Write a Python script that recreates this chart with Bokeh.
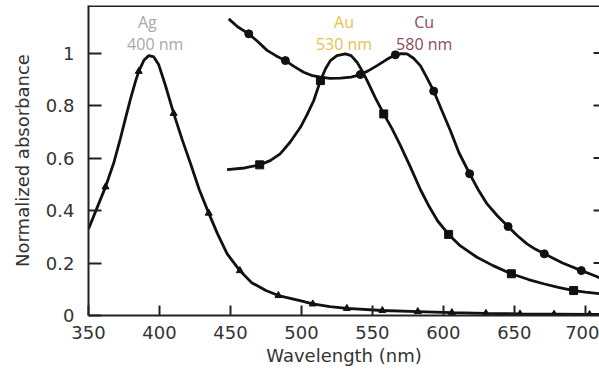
from bokeh.plotting import figure
from bokeh.models import FixedTicker, CustomJSTickFormatter, Range1d, Label, Span
from bokeh.embed import file_html
from bokeh.resources import INLINE

# Ag curve (triangles)
ag_wl = [350, 356, 362, 368, 372.5, 376, 379.6, 383, 385.4, 389, 392.5, 396, 399.5, 404, 410, 416,
         421.8, 428, 434.7, 441, 447.7, 456.6, 465, 475, 483.8, 499, 508, 520, 532, 557, 582, 606,
         630, 654, 678, 703, 710]
ag_abs = [0.33, 0.41, 0.49, 0.585, 0.675, 0.75, 0.825, 0.89, 0.93, 0.972, 0.99, 0.985, 0.955, 0.88,
          0.77, 0.67, 0.58, 0.48, 0.39, 0.31, 0.235, 0.171, 0.125, 0.095, 0.076, 0.057, 0.044,
          0.034, 0.027, 0.019, 0.015, 0.011, 0.008, 0.006, 0.005, 0.004, 0.004]
ag_mark_wl = [362, 385.4, 410, 434.7, 456.6, 483.8, 508, 532, 557, 582, 606, 630, 654, 678, 703]
ag_mark_abs = [0.49, 0.93, 0.77, 0.39, 0.171, 0.076, 0.044, 0.027, 0.019, 0.015, 0.011, 0.008,
               0.006, 0.005, 0.004]

# Au curve (squares)
au_wl = [447.6, 460, 470.6, 478, 485, 492, 499.3, 504, 508.7, 513.4, 517, 520.4, 525, 531, 535,
         539.2, 543, 546.3, 552, 558, 564, 569.7, 576.8, 583.8, 590, 596, 603.7, 612, 623.7, 635,
         647.9, 660, 670.6, 681, 691.8, 700, 710]
au_abs = [0.556, 0.562, 0.574, 0.59, 0.616, 0.66, 0.717, 0.765, 0.819, 0.895, 0.94, 0.971, 0.99,
          0.997, 0.99, 0.965, 0.93, 0.895, 0.83, 0.768, 0.71, 0.648, 0.565, 0.48, 0.415, 0.36,
          0.309, 0.265, 0.222, 0.19, 0.159, 0.137, 0.121, 0.107, 0.095, 0.089, 0.083]
au_mark_wl = [470.6, 513.4, 558, 603.7, 647.9, 691.8]
au_mark_abs = [0.574, 0.895, 0.768, 0.309, 0.159, 0.095]

# Cu curve (circles)
cu_wl = [448.8, 455, 462.9, 469, 475.8, 482, 488.7, 495, 501.6, 507, 513.4, 520, 527.5, 535, 541.5,
         547, 553.3, 560, 566.2, 570, 574.4, 579, 583.8, 588, 593.2, 599, 604.9, 611, 618.5, 625,
         630.8, 638, 645.6, 652, 658.9, 665, 671.1, 684, 697.2, 704, 710]
cu_abs = [1.13, 1.10, 1.073, 1.045, 1.01, 0.99, 0.971, 0.948, 0.927, 0.915, 0.908, 0.903, 0.904,
          0.908, 0.918, 0.932, 0.952, 0.975, 0.993, 0.998, 0.997, 0.98, 0.952, 0.91, 0.855, 0.78,
          0.705, 0.62, 0.54, 0.475, 0.425, 0.38, 0.339, 0.305, 0.273, 0.252, 0.235, 0.20, 0.171,
          0.157, 0.144]
cu_mark_wl = [462.9, 488.7, 541.5, 566.2, 593.2, 618.5, 645.6, 671.1, 697.2]
cu_mark_abs = [1.073, 0.971, 0.918, 0.993, 0.855, 0.54, 0.339, 0.235, 0.171]

x_ticks = [350, 400, 450, 500, 550, 600, 650, 700]
y_ticks = [0, 0.2, 0.4, 0.6, 0.8, 1.0]

metal_names = ["Ag", "Au", "Cu"]
peak_texts = ["400 nm", "530 nm", "580 nm"]
label_colors = ["#a8a8a8", "#e6c24a", "#8c4b5a"]

FONT = "DejaVu Sans"
AXC = "#222222"
X0, X1, Y0, Y1 = 350, 710, 0, 1.181

p = figure(width=599, height=371, output_backend="svg", toolbar_location=None,
           x_range=Range1d(X0, X1), y_range=Range1d(Y0, Y1),
           min_border_left=88, min_border_bottom=56, min_border_top=5, min_border_right=0)
p.outline_line_color = None
p.grid.visible = False
p.background_fill_color = "white"
p.border_fill_color = "white"

fmt = CustomJSTickFormatter(code="return String(Math.round(tick*10)/10);")

for ax in (p.xaxis[0], p.yaxis[0]):
    ax.axis_line_color = AXC
    ax.axis_line_width = 2
    ax.major_tick_line_color = AXC
    ax.major_tick_line_width = 2
    ax.major_tick_out = 0
    ax.minor_tick_line_color = None
    ax.major_label_text_font = FONT
    ax.major_label_text_font_size = "18px"
    ax.major_label_text_color = "#333333"
    ax.axis_label_text_font = FONT
    ax.axis_label_text_font_size = "18px"
    ax.axis_label_text_font_style = "normal"
    ax.axis_label_text_color = "#333333"

p.xaxis[0].ticker = FixedTicker(ticks=x_ticks)
p.xaxis[0].major_tick_in = 10
p.xaxis[0].major_label_standoff = 10
p.xaxis[0].axis_label = "Wavelength (nm)"
p.xaxis[0].axis_label_standoff = 3

p.yaxis[0].ticker = FixedTicker(ticks=y_ticks)
p.yaxis[0].formatter = fmt
p.yaxis[0].major_tick_in = 13
p.yaxis[0].major_label_standoff = 14
p.yaxis[0].axis_label = "Normalized absorbance"
p.yaxis[0].axis_label_standoff = 10

# top frame line
p.add_layout(Span(location=Y1, dimension="width", line_color=AXC, line_width=3))

# inward ticks of the (cut-off) right frame
p.segment(x0=[X1 - 4.2] * len(y_ticks), y0=y_ticks, x1=[X1] * len(y_ticks), y1=y_ticks,
          line_color=AXC, line_width=2)

LC = "#111111"
p.line(ag_wl, ag_abs, line_color=LC, line_width=2.8)
p.line(au_wl, au_abs, line_color=LC, line_width=2.8)
p.line(cu_wl, cu_abs, line_color=LC, line_width=2.8)
p.scatter(ag_mark_wl, ag_mark_abs, marker="triangle", size=7, color=LC)
p.scatter(au_mark_wl, au_mark_abs, marker="square", size=8, color=LC)
p.scatter(cu_mark_wl, cu_mark_abs, marker="circle", size=8, color=LC)

name_x = [391.5, 530, 586.5]
peak_x = [397, 530, 586.5]
for name, peak, nx, px, col in zip(metal_names, peak_texts, name_x, peak_x, label_colors):
    p.add_layout(Label(x=nx, y=1.12, text=name, text_align="center", text_baseline="middle",
                       text_font="Open Sans", text_font_size="16px", text_color=col))
    p.add_layout(Label(x=px, y=1.036, text=peak, text_align="center", text_baseline="middle",
                       text_font="Open Sans", text_font_size="16px", text_color=col))

open("out.html", "w").write(file_html(p, INLINE))
